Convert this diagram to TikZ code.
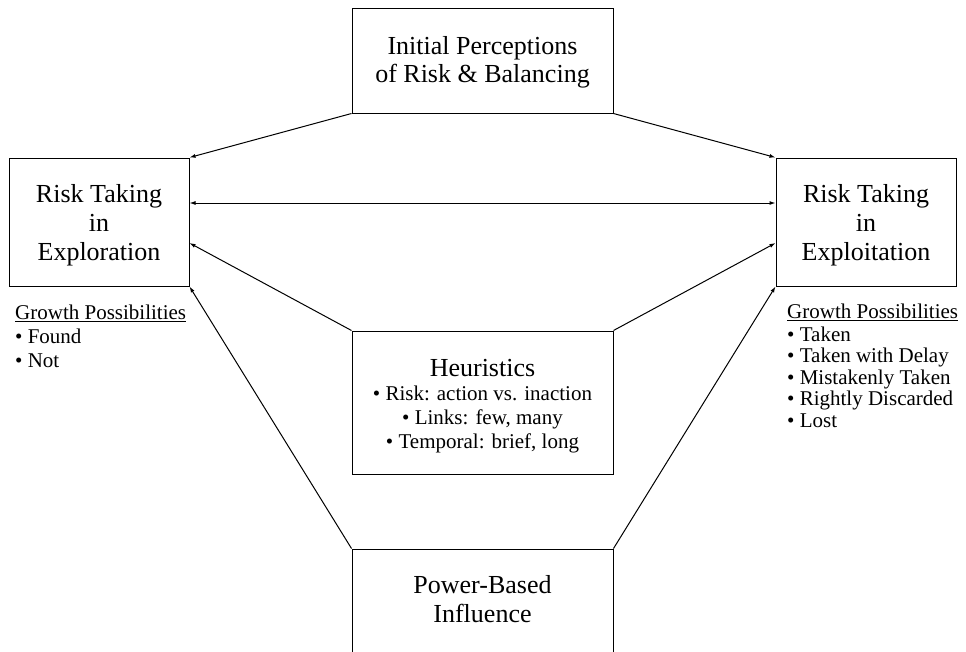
\documentclass[tikz,border=0pt]{standalone}
\usepackage{fontspec}
\setmainfont{Liberation Serif}
\usetikzlibrary{arrows.meta}
\begin{document}
\begin{tikzpicture}[x=1pt,y=-1pt,
  box/.style={draw=black,line width=1pt,inner sep=0pt,align=center,font=\fontsize{26}{29}\selectfont},
  conn/.style={line width=1pt,-{Latex[length=6pt,width=4pt]}},
  both/.style={line width=1pt,{Latex[length=6pt,width=4pt]}-{Latex[length=6pt,width=4pt]}},
  list/.style={inner sep=0pt,align=left,anchor=north west}]
\useasboundingbox (0,0) rectangle (966,651);
\node[box,minimum width=261pt,minimum height=105pt,font=\fontsize{26}{28}\selectfont] (top) at (482.5,60.5) {\rule{0pt}{22.6pt}Initial Perceptions\\of Risk \& Balancing};
\node[box,minimum width=180pt,minimum height=128pt] (left) at (99,222) {\rule{0pt}{23.6pt}Risk Taking\\in\\Exploration};
\node[box,minimum width=180pt,minimum height=128pt] (right) at (866,222) {\rule{0pt}{23.6pt}Risk Taking\\in\\Exploitation};
\node[box,minimum width=261pt,minimum height=143pt,font=\fontsize{21}{24}\selectfont] (heur) at (482.5,402.5) {{\fontsize{26}{24}\selectfont\rule{0pt}{23.6pt}Heuristics}\\• Risk: action vs. inaction\\• Links: few, many\\• Temporal: brief, long};
\node[box,minimum width=261pt,minimum height=106pt] (power) at (482.5,602) {Power-Based\\Influence\rule[-6pt]{0pt}{6pt}};
\node[list,font=\fontsize{21}{24}\selectfont] (lgrow) at (15,304.5) {\underline{Growth Possibilities}\\• Found\\• Not};
\node[list,font=\fontsize{21}{21.5}\selectfont] (rgrow) at (787,303.5) {\underline{Growth Possibilities}\\[1.5pt]• Taken\\• Taken with Delay\\• Mistakenly Taken\\• Rightly Discarded\\• Lost};
\draw[conn] (top.south west) -- (left.north east);
\draw[conn] (top.south east) -- (right.north west);
\draw[both] ([yshift=19pt]left.east) -- ([yshift=19pt]right.west);
\draw[conn] (heur.north west) -- ([yshift=-21pt]left.east);
\draw[conn] (heur.north east) -- ([yshift=-21pt]right.west);
\draw[conn] (power.north west) -- (left.south east);
\draw[conn] (power.north east) -- (right.south west);
\end{tikzpicture}
\end{document}
